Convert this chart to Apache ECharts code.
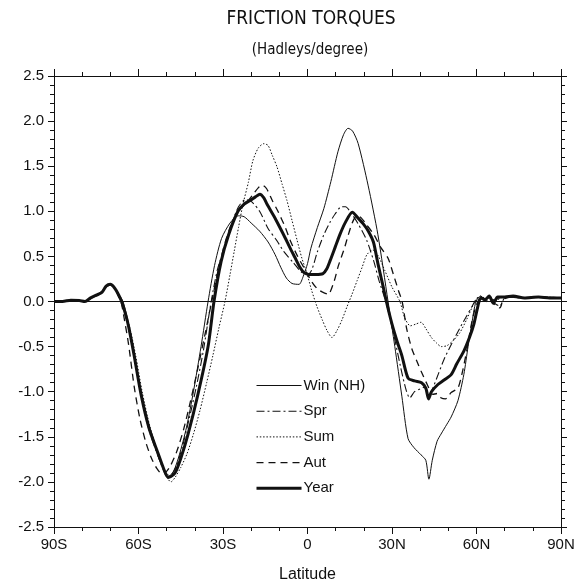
<!DOCTYPE html>
<html>
<head>
<meta charset="utf-8">
<script src="https://cdn.jsdelivr.net/npm/echarts@6/dist/echarts.min.js"></script>
<style>
  html, body { margin: 0; padding: 0; background: #fff; }
  #chart { width: 575px; height: 583px; }
</style>
</head>
<body>
<div id="chart"></div>
<script>
// Friction torque by latitude, [latitude (deg, S negative), torque (Hadleys/degree)]
const winter = [[-90,0],[-87,0],[-84,0.015],[-81,0.01],[-79,0],[-77,0.04],[-75,0.06],[-73,0.1],[-71.5,0.16],[-70,0.18],[-68.5,0.15],[-67,0.08],[-65.5,0],[-64,-0.18],[-62,-0.48],[-60,-0.85],[-57.5,-1.22],[-55,-1.52],[-52.5,-1.76],[-50.5,-1.89],[-49,-1.93],[-47.5,-1.88],[-45.5,-1.7],[-43,-1.4],[-40.5,-1.0],[-37.8,-0.5],[-35.3,0],[-33,0.4],[-30.5,0.7],[-27.5,0.87],[-24.5,0.95],[-22.5,0.94],[-20,0.87],[-17,0.78],[-14,0.66],[-11.5,0.52],[-9.5,0.38],[-7.5,0.26],[-5.5,0.2],[-3,0.19],[-1.5,0.28],[0,0.42],[1.2,0.59],[3.5,0.82],[5.8,1.03],[8.3,1.33],[10.8,1.66],[12.8,1.85],[14.4,1.92],[16,1.89],[18,1.75],[21.5,1.29],[25,0.74],[28.6,0],[31,-0.5],[33.5,-1.05],[35.7,-1.52],[37.8,-1.62],[40.3,-1.7],[42,-1.76],[43.1,-1.97],[44.3,-1.76],[46,-1.55],[47.4,-1.47],[49.5,-1.36],[51,-1.28],[53.4,-1.1],[55.5,-0.81],[57,-0.5],[58.3,-0.25],[59.8,0],[61.5,0.06],[63,0.01],[64.5,0.05],[66,-0.01],[68,0.04],[71,0.05],[75,0.04],[80,0.05],[85,0.04],[90,0.04]];

const spring = [[-90,0],[-87,0],[-84,0.015],[-81,0.01],[-79,0],[-77,0.04],[-75,0.07],[-73,0.1],[-71.5,0.17],[-70,0.19],[-68.5,0.15],[-67,0.07],[-66,0],[-64.5,-0.17],[-63.3,-0.32],[-61.3,-0.65],[-59,-1.05],[-56.3,-1.42],[-53,-1.72],[-51,-1.88],[-49.7,-1.95],[-48.5,-1.93],[-46.5,-1.82],[-44.5,-1.62],[-42,-1.3],[-39.5,-0.95],[-37,-0.55],[-34.2,0],[-32,0.35],[-30,0.55],[-27,0.85],[-24.5,1.05],[-22,1.13],[-20,1.11],[-17,1.0],[-14,0.81],[-11,0.68],[-8.3,0.55],[-5,0.43],[-2.3,0.33],[0,0.3],[1.5,0.35],[3.5,0.55],[5.8,0.74],[8,0.88],[9.8,0.97],[12,1.05],[13.5,1.05],[15.5,0.98],[18,0.86],[21,0.68],[23.5,0.45],[25.5,0.22],[27.8,0],[30.5,-0.35],[33,-0.72],[35,-0.98],[36.3,-1.07],[38,-1.0],[40,-0.97],[41.5,-0.95],[43,-1.06],[44.5,-0.96],[46.5,-0.8],[48.5,-0.64],[51,-0.48],[54,-0.3],[56.5,-0.16],[58.5,-0.05],[60,0.03],[61.5,0.06],[63,0.01],[65,0.05],[66.5,-0.02],[68.3,-0.05],[70,0.04],[73,0.05],[78,0.04],[84,0.05],[90,0.04]];

const summer = [[-90,0],[-87,0],[-84,0.01],[-81,0.01],[-79,0],[-77,0.03],[-75,0.06],[-73,0.1],[-71.5,0.16],[-70,0.18],[-68.5,0.15],[-67,0.07],[-65.8,0],[-64.3,-0.17],[-63,-0.3],[-61,-0.6],[-58.7,-1.0],[-56,-1.38],[-53,-1.68],[-51,-1.86],[-49.5,-1.97],[-48.5,-2.0],[-47,-1.95],[-45,-1.84],[-42.8,-1.69],[-40.5,-1.47],[-38.2,-1.21],[-35.8,-0.9],[-33.6,-0.6],[-31.5,-0.3],[-29.3,0],[-27.5,0.3],[-26,0.56],[-24.5,0.82],[-22.9,1.08],[-21,1.32],[-19.4,1.56],[-17.5,1.7],[-15.5,1.75],[-14,1.73],[-12.5,1.62],[-10.8,1.49],[-9,1.3],[-7.3,1.12],[-5.5,0.9],[-3.7,0.68],[-2,0.48],[-0.2,0.31],[1.5,0.12],[3.4,-0.06],[5.2,-0.2],[6.9,-0.32],[8.7,-0.4],[10.5,-0.32],[12.3,-0.2],[14,-0.06],[15.8,0.08],[17.6,0.23],[19.4,0.38],[21.1,0.52],[23.2,0.57],[25.2,0.5],[27.5,0.34],[30,0.16],[32.8,0],[34.5,-0.18],[36.5,-0.27],[38.5,-0.25],[40.3,-0.23],[42,-0.3],[44,-0.4],[45.8,-0.46],[47.5,-0.5],[49.5,-0.49],[51.5,-0.44],[54,-0.35],[56.5,-0.2],[58.5,-0.06],[60,0.03],[61.5,0.06],[63,0.02],[65,0.05],[67,0],[68.5,0.04],[71,0.05],[76,0.04],[82,0.05],[90,0.04]];

const autumn = [[-90,0],[-87,0],[-84,0.015],[-81,0.01],[-79,0],[-77,0.04],[-75,0.07],[-73,0.11],[-71.5,0.17],[-70,0.19],[-68.5,0.15],[-67,0.05],[-66.2,0],[-65,-0.2],[-63.5,-0.48],[-61.5,-0.95],[-59.5,-1.3],[-57.5,-1.55],[-55.5,-1.73],[-53.5,-1.85],[-51.7,-1.91],[-50.5,-1.9],[-48.8,-1.83],[-46.5,-1.67],[-44,-1.42],[-41.5,-1.1],[-39,-0.75],[-36.5,-0.38],[-34,0],[-31.5,0.38],[-29,0.68],[-26.5,0.9],[-24,1.02],[-21.5,1.1],[-19.5,1.18],[-17.5,1.26],[-16,1.29],[-14.5,1.25],[-12.5,1.12],[-10.5,1.0],[-8,0.83],[-5.9,0.66],[-3.5,0.5],[-1,0.36],[1.5,0.22],[3.5,0.14],[5,0.11],[7.3,0.08],[9.4,0.22],[11,0.4],[13,0.58],[14.5,0.74],[16,0.88],[17.5,0.95],[19,0.93],[21,0.85],[23.6,0.74],[26,0.6],[28.6,0.48],[30.5,0.3],[32.3,0.12],[33.6,0],[35.2,-0.3],[37,-0.52],[38.8,-0.66],[40.3,-0.77],[42.5,-0.92],[44.5,-1.03],[46,-1.02],[47.5,-1.07],[49,-1.08],[51,-1.01],[53.4,-0.96],[55,-0.78],[56.5,-0.55],[58,-0.28],[59.5,-0.08],[60.8,0.02],[62,0.06],[63.5,0],[65,0.04],[66.5,-0.04],[68.3,-0.07],[69.5,0.02],[72,0.05],[77,0.04],[83,0.05],[90,0.04]];

const annual = [[-90,0],[-87,0],[-84,0.015],[-81,0.01],[-79,0],[-77,0.04],[-75,0.07],[-73,0.1],[-71.5,0.17],[-70,0.19],[-68.5,0.15],[-67,0.07],[-66,0],[-64.5,-0.15],[-63.5,-0.28],[-61.6,-0.59],[-59.1,-1.03],[-56.3,-1.4],[-53.1,-1.68],[-51,-1.86],[-49.5,-1.95],[-48.5,-1.94],[-47,-1.9],[-45,-1.74],[-42.4,-1.47],[-38.9,-1.03],[-35.3,-0.5],[-33.2,0],[-30.7,0.44],[-28,0.74],[-24.7,1.0],[-22.5,1.08],[-20.4,1.12],[-18.5,1.16],[-16.9,1.19],[-15.5,1.15],[-14.4,1.08],[-12,0.95],[-9.8,0.82],[-8,0.71],[-6.3,0.6],[-4.5,0.49],[-2.7,0.38],[-1.2,0.32],[0.5,0.3],[3,0.3],[5.5,0.31],[6.8,0.36],[8,0.45],[9.8,0.6],[11.6,0.75],[13.5,0.88],[15.9,0.99],[17.8,0.93],[19.8,0.86],[21.6,0.78],[23.4,0.66],[25,0.42],[26.9,0.16],[28,0],[30,-0.25],[32,-0.46],[33.5,-0.6],[35.7,-0.85],[38,-0.88],[40.5,-0.9],[42,-0.96],[43,-1.08],[44,-1.0],[46.3,-0.92],[48.5,-0.87],[51,-0.81],[53,-0.69],[55.5,-0.55],[57.5,-0.4],[59,-0.26],[60.5,-0.05],[61.5,0.04],[63,0.02],[64.5,0.06],[66,-0.02],[67.5,0.05],[70,0.05],[73,0.06],[77,0.04],[82,0.05],[86,0.04],[90,0.04]];

const seriesNames = ['Win (NH)', 'Spr', 'Sum', 'Aut', 'Year'];
const latTickLabels = ['90S', '60S', '30S', '0', '30N', '60N', '90N'];

const FONT = '"Liberation Sans", Arial, sans-serif';
const TITLE_FONT = '"DejaVu Sans Condensed", "Liberation Sans", sans-serif';
const INK = '#111';

const chart = echarts.init(document.getElementById('chart'), null, { renderer: 'canvas' });

function latAxis(pos, showLabels) {
  return {
    type: 'value', position: pos, min: -90, max: 90, interval: 30,
    axisLine: { show: true, onZero: false, lineStyle: { color: INK, width: 1 } },
    axisTick: { show: true, inside: false, length: 7, lineStyle: { color: INK, width: 1 } },
    minorTick: { show: true, splitNumber: 3, length: 4, lineStyle: { color: INK, width: 1 } },
    splitLine: { show: false },
    axisLabel: {
      show: showLabels, margin: 10, color: INK, fontFamily: FONT, fontSize: 15,
      formatter: v => latTickLabels[Math.round((v + 90) / 30)]
    },
    name: showLabels ? 'Latitude' : '', nameLocation: 'middle', nameGap: 40,
    nameTextStyle: { color: INK, fontFamily: FONT, fontSize: 16 }
  };
}

function torqueAxis(pos, showLabels) {
  return {
    type: 'value', position: pos, min: -2.5, max: 2.5, interval: 0.5,
    axisLine: { show: true, onZero: false, lineStyle: { color: INK, width: 1 } },
    axisTick: { show: true, inside: false, length: 6, lineStyle: { color: INK, width: 1 } },
    minorTick: { show: true, splitNumber: 5, length: 4, lineStyle: { color: INK, width: 1 } },
    splitLine: { show: false },
    axisLabel: {
      show: showLabels, margin: 10, color: INK, fontFamily: FONT, fontSize: 15,
      formatter: v => v.toFixed(1)
    }
  };
}

const styles = [
  { width: 1, type: 'solid' },
  { width: 1.1, type: [8, 3, 2, 3] },
  { width: 1, type: [1.5, 1.8] },
  { width: 1.3, type: [7, 5] },
  { width: 3, type: 'solid' }
];
const datasets = [winter, spring, summer, autumn, annual];

const series = datasets.map((d, i) => ({
  name: seriesNames[i],
  type: 'line',
  data: d,
  smooth: 0.25,
  symbol: 'none',
  xAxisIndex: 0, yAxisIndex: 0,
  lineStyle: Object.assign({ color: INK }, styles[i]),
  itemStyle: { color: INK },
  z: i === 4 ? 5 : 3,
  markLine: i === 0 ? {
    silent: true, symbol: 'none', label: { show: false },
    lineStyle: { color: INK, width: 1, type: 'solid' },
    data: [{ yAxis: 0 }]
  } : undefined
}));

chart.setOption({
  animation: false,
  backgroundColor: '#fff',
  title: [
    { text: 'FRICTION TORQUES', left: 306, top: 5, textAlign: 'center',
      textStyle: { fontFamily: TITLE_FONT, fontSize: 19, fontWeight: 'normal', color: INK } },
    { text: '(Hadleys/degree)', left: 305, top: 38, textAlign: 'center',
      textStyle: { fontFamily: TITLE_FONT, fontSize: 15, fontWeight: 'normal', color: INK } }
  ],
  grid: { left: 54, right: 14, top: 76, bottom: 56, containLabel: false, outerBoundsMode: 'none' },
  xAxis: [latAxis('bottom', true), latAxis('top', false)],
  yAxis: [torqueAxis('left', true), torqueAxis('right', false)],
  legend: {
    orient: 'vertical', left: 250, top: 373,
    itemWidth: 45, itemHeight: 12, itemGap: 10.7,
    itemStyle: { opacity: 0 },
    textStyle: { fontFamily: FONT, fontSize: 15, color: INK, padding: [0, 0, 0, -3] },
    data: seriesNames.map((n, i) => ({ name: n, lineStyle: { width: styles[i].width } }))
  },
  series: series
});
</script>
</body>
</html>
